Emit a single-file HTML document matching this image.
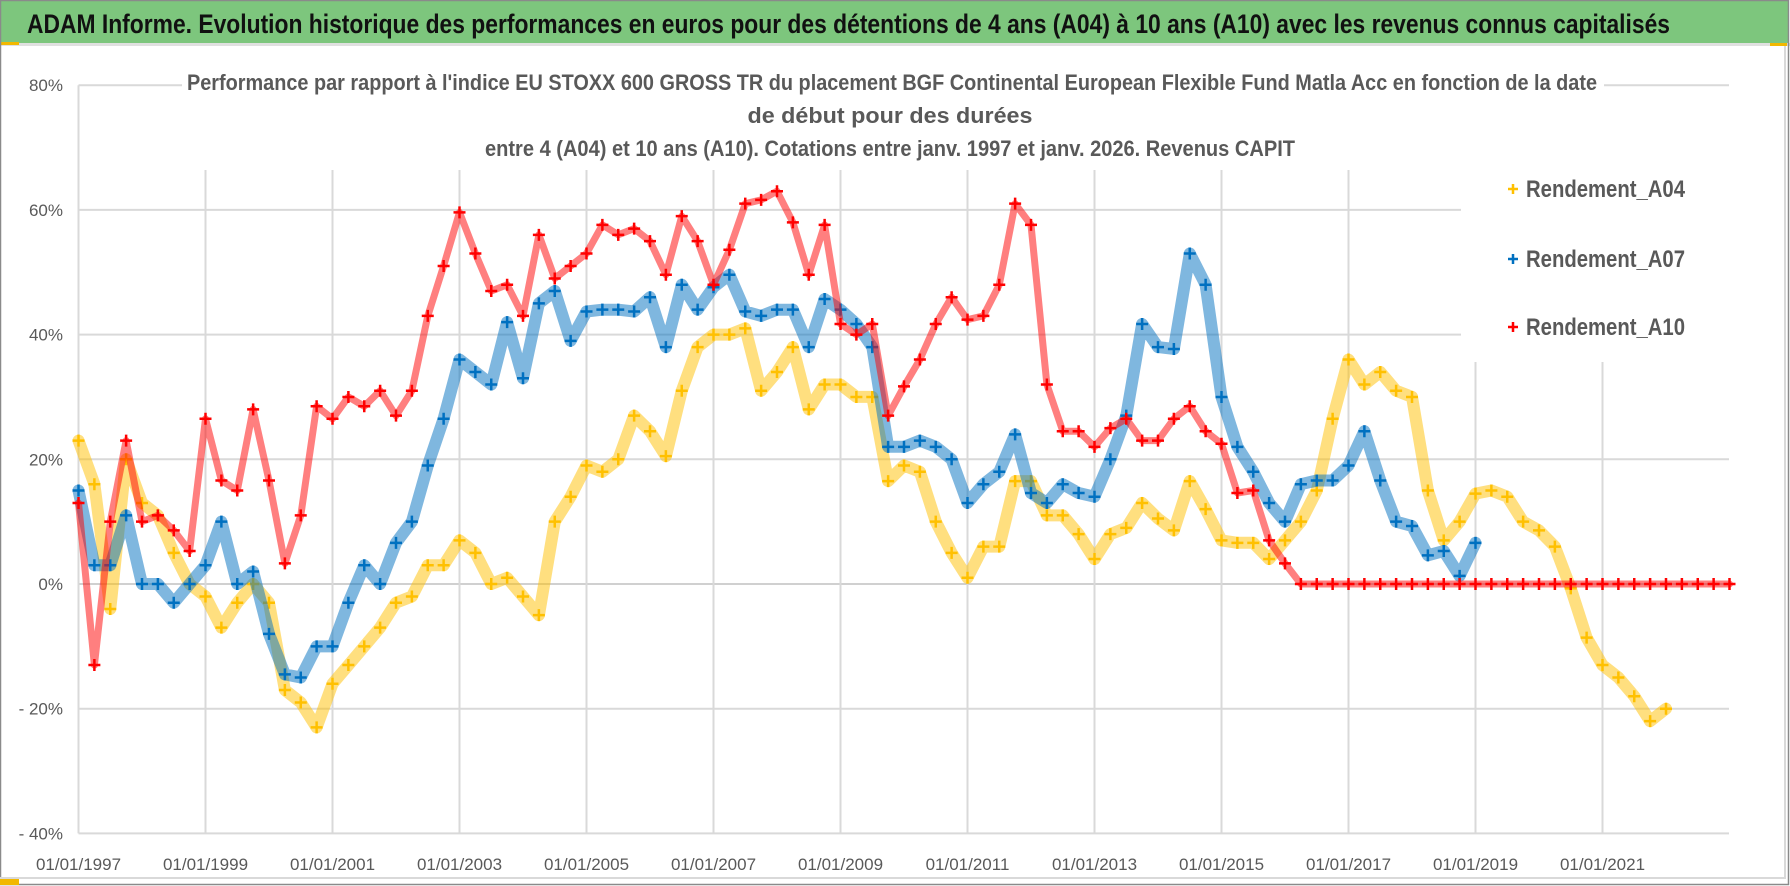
<!DOCTYPE html>
<html><head><meta charset="utf-8">
<style>
html,body{margin:0;padding:0;background:#fff;}
#wrap{position:relative;width:1790px;height:886px;overflow:hidden;background:#fff;}
svg{position:absolute;left:0;top:0;}
text{font-family:"Liberation Sans Narrow","Liberation Sans",sans-serif;}
</style></head>
<body>
<div id="wrap">
<svg id="chart" width="1790" height="886" viewBox="0 0 1790 886">
  <rect x="0" y="0" width="1790" height="886" fill="#fff"/>
  <rect x="1" y="1" width="1787" height="42" fill="#7dc67d"/>
  <rect x="0" y="43" width="1790" height="3" fill="#e0e0e0"/>
  <rect x="0" y="42" width="19" height="3" fill="#f2b800"/>
  <rect x="1770" y="43" width="17" height="3" fill="#f2b800"/>
  <text x="27" y="33" font-size="27" font-weight="bold" fill="#111" textLength="1643" lengthAdjust="spacingAndGlyphs">ADAM Informe. Evolution historique des performances en euros pour des détentions de 4 ans (A04) à 10 ans (A10) avec les revenus connus capitalisés</text>
  <g id="grid"></g>
  <g id="marks"></g>
  <g id="axes"></g>
  <rect x="182" y="62" width="1422" height="100" fill="#fff"/>
  <text x="892" y="90" font-size="22" font-weight="bold" fill="#595959" text-anchor="middle" textLength="1410" lengthAdjust="spacingAndGlyphs">Performance par rapport à l'indice EU STOXX 600 GROSS TR  du placement BGF Continental European Flexible Fund Matla Acc en fonction de la date</text>
  <text x="890" y="123" font-size="22" font-weight="bold" fill="#595959" text-anchor="middle" textLength="285" lengthAdjust="spacingAndGlyphs">de début pour des durées</text>
  <text x="890" y="156" font-size="22" font-weight="bold" fill="#595959" text-anchor="middle" textLength="810" lengthAdjust="spacingAndGlyphs">entre 4 (A04) et 10 ans (A10).  Cotations entre janv. 1997 et janv. 2026. Revenus CAPIT</text>
  <g id="legend"></g>
  <rect x="0.5" y="0.5" width="1788" height="884" fill="none" stroke="#8a8a8a" stroke-width="1.5"/>
  <line x1="0" y1="878" x2="1786" y2="878" stroke="#d9d9d9" stroke-width="2"/>
  <line x1="1785" y1="46" x2="1785" y2="878" stroke="#d9d9d9" stroke-width="2"/>
  <rect x="0" y="879" width="19" height="6" fill="#f2b800"/>
</svg>
</div>
<script>
// ---- data (quarterly start dates) ----
const startA04 = 1997.0;
const valuesA04 = [23,16,-4,20, 13,11,5,0, -2,-7,-3,0, -3,-17,-19,-23, -16,-13,-10,-7, -3,-2,3,3, 7,5,0,1, -2,-5,10,14, 19,18,20,27, 24.5,20.5,31,38, 40,40,41,31, 34,38,28,32, 32,30,30,16.5, 19,18,10,5, 1,6,6,16.5, 16.5,11,11,8, 4,8,9,13, 10.5,8.6,16.5,12, 7,6.6,6.6,4, 7,10,15,26.5, 36,32,34,31, 30,15,7,10, 14.5,15,14,10, 8.6,6,-0.7,-8.6, -13,-15,-18,-22, -20];
const startA07 = 1997.0;
const valuesA07 = [15,3,3,11, 0,0,-3,0, 3,10,0,2, -8,-14.5,-15,-10, -10,-3,3,0, 6.6,10,19,26.5, 36,34,32,42, 33,45,47,39, 43.7,44,44,43.7, 46,38,48,44, 47.6,49.6,43.7,43, 44,44,38,45.7, 44,41.7,38,22, 22,23,22,20, 13,16,18,24, 14.6,13,16,14.6, 14,20,27,41.7, 38,37.7,53,48, 30,22,18,13, 10,16,16.6,16.6, 19,24.5,16.6,10, 9.3,4.6,5.3,1.3, 6.6];
const startA10 = 1997.0;
const valuesA10 = [13,-13,10,23, 10,11,8.6,5.3, 26.5,16.6,15,28, 16.6,3.3,11,28.5, 26.5,30,28.5,31, 27,31,43,51, 59.6,53,47,48, 43,56,49,51, 53,57.6,56,57, 55,49.6,59,55, 48,53.6,61,61.6, 63,58,49.6,57.6, 41.7,40,41.7,27, 31.7,36,41.7,46, 42.4,43,48,61, 57.6,32,24.5,24.5, 22,25,26.5,23, 23,26.5,28.5,24.5, 22.5,14.6,15,7, 3.3,0,0,0, 0,0,0,0, 0,0,0,0, 0,0,0,0, 0,0,0,0, 0,0,0,0, 0,0,0,0, 0];
const yTicks = [80,60,40,20,0,-20,-40];
const yTickLabels = ["80%","60%","40%","20%","0%","- 20%","- 40%"];
const xTicks = [1997,1999,2001,2003,2005,2007,2009,2011,2013,2015,2017,2019,2021];
const xTickLabels = ["01/01/1997","01/01/1999","01/01/2001","01/01/2003","01/01/2005","01/01/2007","01/01/2009","01/01/2011","01/01/2013","01/01/2015","01/01/2017","01/01/2019","01/01/2021"];
const seriesNames = ["Rendement_A04","Rendement_A07","Rendement_A10"];

// ---- scales ----
const X0 = 78.5, XPY = 63.5, XMAX = 1729;
const Y0 = 584, YPP = 6.235;
function xs(yr){ return X0 + (yr - 1997) * XPY; }
function ys(v){ return Y0 - v * YPP; }
const NS = "http://www.w3.org/2000/svg";
function mk(tag, attrs, parent){
  const e = document.createElementNS(NS, tag);
  for (const k in attrs) e.setAttribute(k, attrs[k]);
  parent.appendChild(e);
  return e;
}
const grid = document.getElementById('grid');
const axes = document.getElementById('axes');
const marks = document.getElementById('marks');
const legend = document.getElementById('legend');

yTicks.forEach((t, i) => {
  const y = ys(t);
  let x2 = XMAX;
  if (t === 60 || t === 40) x2 = 1461;
  const l = mk('line', {x1: X0, y1: y, x2: x2, y2: y, stroke: t === 0 ? '#d0d0d0' : '#d9d9d9', 'stroke-width': 2}, grid);
  
  
  const tx = mk('text', {x: 63, y: y + 6, 'font-size': 17, fill: '#595959', 'text-anchor': 'end'}, axes);
  tx.textContent = yTickLabels[i];
  
  
});
xTicks.forEach((t, i) => {
  const x = xs(t);
  let y1 = 170;
  if (t === 1997) y1 = ys(80);
  if (t >= 2019) y1 = 362;
  const l = mk('line', {x1: x, y1: y1, x2: x, y2: ys(-40), stroke: '#d9d9d9', 'stroke-width': 2}, grid);
  
  
  const tx = mk('text', {x: x, y: 870, 'font-size': 17, fill: '#595959', 'text-anchor': 'middle'}, axes);
  tx.textContent = xTickLabels[i];
  
  
});

const colors = ['#FFC000', '#0070C0', '#FF0000'];
const allSeries = [[startA04, valuesA04], [startA07, valuesA07], [startA10, valuesA10]];
allSeries.forEach((s, si) => {
  const [start, vals] = s;
  const g = mk('g', {}, marks);
  
  
  const pts = vals.map((v, i) => xs(start + i * 0.25).toFixed(1) + ',' + ys(v).toFixed(1)).join(' ');
  const band = mk('polyline', {points: pts, fill: 'none', stroke: colors[si], 'stroke-width': si === 2 ? 7 : 12, 'stroke-opacity': 0.5, 'stroke-linejoin': 'round', 'stroke-linecap': 'round'}, g);
  
  
  vals.forEach((v, i) => {
    const x = xs(start + i * 0.25), y = ys(v);
    const p = mk('path', {d: `M${x-6},${y}H${x+6}M${x},${y-6}V${y+6}`, stroke: colors[si], 'stroke-width': 2.5, fill: 'none'}, g);
    
    
  });
});

const legBase = [197, 267, 335];
mk('rect', {x: 1463, y: 165, width: 266, height: 196, fill: '#fff'}, legend);
seriesNames.forEach((n, i) => {
  const y = legBase[i] - 8;
  const m = mk('path', {d: `M1508,${y}H1518M1513,${y-5}V${y+5}`, stroke: colors[i], 'stroke-width': 2.5, fill: 'none'}, legend);
  
  
  const t = mk('text', {x: 1526, y: legBase[i], 'font-size': 24, 'font-weight': 'bold', fill: '#595959', textLength: 159, lengthAdjust: 'spacingAndGlyphs'}, legend);
  t.textContent = n;
  
  
});
</script>
</body></html>
